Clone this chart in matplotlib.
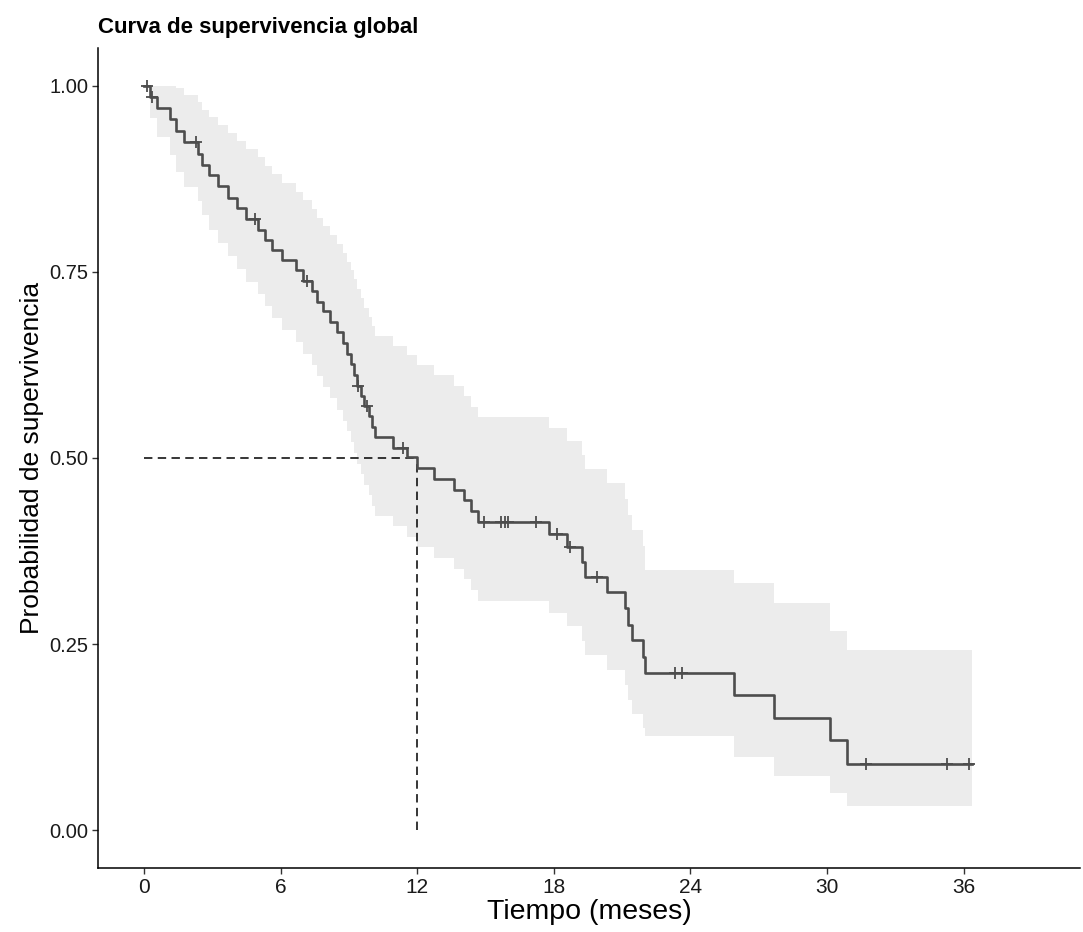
import numpy as np
import matplotlib
matplotlib.use("Agg")
import matplotlib.pyplot as plt

plt.rcParams['font.family'] = ['Liberation Sans', 'DejaVu Sans']

# Kaplan-Meier step curve (event times in months, survival after each step)
times = [0, 0.28, 0.55, 1.15, 1.40, 1.75, 2.39, 2.56, 2.87, 3.27, 3.67, 4.07, 4.46,
         4.99, 5.30, 5.61, 6.05, 6.67, 6.98, 7.38, 7.60, 7.87, 8.17, 8.48, 8.75,
         8.93, 9.10, 9.24, 9.37, 9.55, 9.68, 9.90, 10.03, 10.16, 10.92, 11.55,
         12.00, 12.73, 13.61, 14.05, 14.36, 14.67, 17.81, 18.56, 19.22, 19.35,
         20.33, 21.12, 21.25, 21.43, 21.92, 22.00, 25.93, 27.69, 30.12, 30.86]
surv = [1.0, .985, .970, .955, .939, .924, .909, .894, .880, .865, .850, .836, .821,
        .807, .793, .779, .766, .752, .738, .724, .710, .697, .683, .669, .655,
        .640, .626, .612, .597, .583, .570, .556, .542, .528, .514, .501,
        .487, .472, .457, .443, .429, .414, .398, .380, .360, .340,
        .320, .298, .276, .255, .233, .211, .181, .150, .121, .089]
lower = [1.0, .957, .931, .907, .885, .864, .845, .826, .807, .789, .771, .754, .737,
         .720, .704, .688, .672, .656, .640, .625, .610, .595, .580, .565, .550,
         .536, .521, .507, .492, .478, .464, .450, .436, .422, .408, .394,
         .380, .366, .351, .337, .323, .308, .292, .274, .254, .235,
         .215, .195, .175, .156, .137, .127, .098, .072, .050, .032]
upper = [1.0, 1.0, 1.0, 1.0, .997, .988, .978, .968, .958, .947, .937, .926, .915,
         .904, .892, .881, .870, .858, .847, .835, .823, .812, .800, .788, .776,
         .764, .752, .740, .727, .715, .702, .690, .677, .664, .651, .638,
         .625, .611, .597, .583, .569, .555, .540, .523, .504, .485,
         .466, .445, .424, .403, .382, .349, .332, .305, .268, .242]
end_time = 36.37
censor_times = [0.13, 0.33, 2.30, 4.86, 7.16, 9.41, 9.81, 11.36, 14.94, 15.69, 15.86,
                16.00, 17.23, 18.12, 18.69, 19.89, 23.33, 23.64, 31.73, 35.26, 36.23]
median_time = 12.0
x_ticks = [0, 6, 12, 18, 24, 30, 36]
y_ticks = [0.00, 0.25, 0.50, 0.75, 1.00]
y_ticklabels = ["0.00", "0.25", "0.50", "0.75", "1.00"]

fig = plt.figure(figsize=(10.83, 9.32), dpi=100)
ax = fig.add_axes([0.0905, 0.0687, 0.9065, 0.8798])

t_ext = np.array(times + [end_time])
s_ext = np.array(surv + [surv[-1]])
lo_ext = np.array(lower + [lower[-1]])
hi_ext = np.array(upper + [upper[-1]])

ax.fill_between(t_ext, lo_ext, hi_ext, step='post', color='#ececec', linewidth=0, zorder=1)
ax.step(t_ext, s_ext, where='post', color='#4d4d4d', linewidth=1.9, zorder=3)

idx = np.searchsorted(np.array(times), np.array(censor_times), side='right') - 1
cy = np.array(surv)[idx]
ax.plot(censor_times, cy, linestyle='none', marker='+', markersize=9,
        markeredgewidth=1.3, color='#4d4d4d', zorder=4)

ax.plot([0, median_time], [0.5, 0.5], linestyle=(0, (5.5, 3.5)), color='black', linewidth=1.1, zorder=2)
ax.plot([median_time, median_time], [0, 0.5], linestyle=(0, (5.5, 3.5)), color='black', linewidth=1.1, zorder=2)

ax.set_xlim(-2.02, 41.1)
ax.set_ylim(-0.051, 1.051)
ax.set_xticks(x_ticks)
ax.set_xticklabels([str(v) for v in x_ticks], fontsize=15)
ax.set_yticks(y_ticks)
ax.set_yticklabels(y_ticklabels, fontsize=14.5)
for s in ['top', 'right']:
    ax.spines[s].set_visible(False)
for s in ['left', 'bottom']:
    ax.spines[s].set_linewidth(1.1)
ax.tick_params(axis='both', length=4, width=1.0, color='#333333', labelcolor='#1a1a1a', pad=3)

ax.set_xlabel("Tiempo (meses)", fontsize=20.5, labelpad=2, color='black')
ax.set_ylabel("Probabilidad de supervivencia", fontsize=19, labelpad=4, color='black')
fig.text(0.0905, 0.970, "Curva de supervivencia global", fontsize=16,
         fontweight='bold', ha='left', va='center')

fig.savefig("out.png", dpi=100)
